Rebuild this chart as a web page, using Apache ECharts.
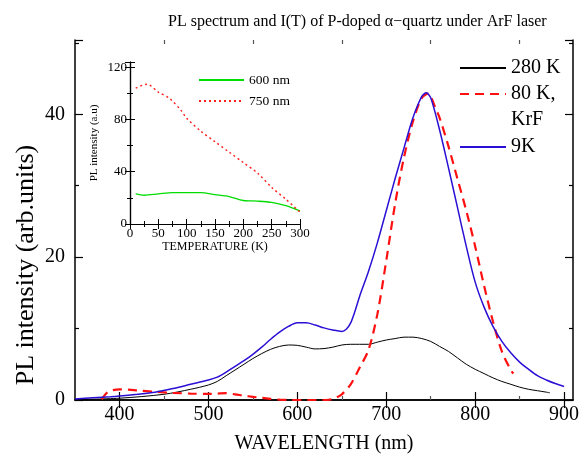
<!DOCTYPE html>
<html>
<head>
<meta charset="utf-8">
<script src="https://cdn.jsdelivr.net/npm/echarts@6/dist/echarts.min.js"></script>
<style>
  html, body { margin: 0; padding: 0; background: #fff; }
  #chart { width: 582px; height: 460px; }
</style>
</head>
<body>
<div id="chart"></div>
<script>
// main spectrum: [wavelength nm, PL intensity]
var spec280K = [[350,0.05],[400,0.25],[450,0.8],[480,1.5],[500,2.1],[510,2.6],[520,3.4],[530,4.2],[540,5.0],[550,5.8],[560,6.5],[570,7.1],[580,7.5],[590,7.7],[600,7.65],[610,7.4],[620,7.15],[630,7.2],[640,7.4],[650,7.7],[660,7.8],[670,7.8],[680,7.8],[690,8.1],[700,8.4],[710,8.6],[720,8.8],[730,8.8],[740,8.6],[750,8.2],[760,7.5],[770,6.8],[780,5.9],[790,5.0],[800,4.3],[810,3.7],[820,3.1],[830,2.6],[840,2.2],[850,1.8],[860,1.5],[870,1.3],[880,1.1],[884,1.0]];
var spec80KKrF = [[380,0.1],[385,0.9],[390,1.3],[400,1.5],[410,1.45],[420,1.35],[440,1.15],[460,1.0],[480,0.9],[500,0.85],[510,0.9],[520,0.95],[530,0.8],[540,0.6],[550,0.45],[560,0.3],[570,0.15],[580,0.05],[590,0],[632,0],[640,0.15],[650,0.8],[660,2.2],[670,4.5],[680,7.0],[690,12],[700,19.5],[710,27.5],[720,34],[730,39],[740,42.3],[747,42.9],[755,41],[760,39.5],[770,35.5],[780,31],[790,26.5],[800,21.5],[810,16],[820,11],[830,6.8],[840,4.2],[843,3.7]];
var spec9K = [[350,0.15],[370,0.3],[390,0.45],[400,0.55],[420,0.8],[440,1.1],[460,1.6],[480,2.2],[500,2.8],[510,3.2],[520,3.9],[530,4.7],[540,5.5],[550,6.4],[560,7.4],[570,8.5],[580,9.5],[590,10.3],[600,10.8],[610,10.8],[620,10.5],[630,10.1],[640,9.8],[650,9.6],[655,9.9],[660,10.8],[665,12.5],[670,14.5],[680,18],[690,22],[700,26.5],[710,31],[720,35.3],[730,39.5],[740,42.5],[745,43],[750,42.3],[760,37.8],[770,32.5],[780,27],[790,21.5],[800,16.5],[810,13],[820,10.3],[830,8.2],[840,6.6],[850,5.3],[860,4.3],[870,3.4],[880,2.8],[890,2.3],[900,1.9]];

// inset: [temperature K, PL intensity]
var temp600 = [[10,23],[25,22],[50,23],[75,24],[100,24],[125,24],[150,22.5],[175,21],[200,18],[225,17.5],[250,16.5],[275,14],[300,10]];
var temp750 = [[10,104],[30,107],[50,101],[70,96],[90,87],[100,81],[125,71],[150,63],[175,55],[200,47],[225,39],[250,28],[275,19],[300,9]];

var xMajor = [400, 500, 600, 700, 800, 900];
var xMinor = [450, 550, 650, 750, 850];

var serif = 'Liberation Serif';
var chart = echarts.init(document.getElementById('chart'));

var frameAxis = { lineStyle: { color: '#000', width: 1.5 } };
var noMarker = { opacity: 0 };

option = {
    animation: false,
    backgroundColor: '#fff',
    textStyle: { fontFamily: serif, color: '#000' },
    title: {
        text: 'PL spectrum and I(T) of P-doped α−quartz under ArF laser',
        left: 163, top: 9,
        textStyle: { fontFamily: serif, fontSize: 16, fontWeight: 'normal', color: '#000' }
    },
    grid: [
        { left: 75, right: 9, top: 40, bottom: 60, outerBoundsMode: 'none' },
        { left: 75, right: 9, top: 40, bottom: 60, outerBoundsMode: 'none' },
        { left: 130, top: 62, width: 170, height: 162, outerBoundsMode: 'none' }
    ],
    legend: [
        { data: ['280 K'], left: 459, top: 56, padding: 0, itemWidth: 46, itemHeight: 14, itemStyle: noMarker,
          textStyle: { fontFamily: serif, fontSize: 20, lineHeight: 24, color: '#000' } },
        { data: ['80 K,\nKrF'], left: 459, top: 55, padding: 0, itemWidth: 46, itemHeight: 14, itemStyle: noMarker,
          formatter: function (n) { return ' \n' + n; },
          textStyle: { fontFamily: serif, fontSize: 20, lineHeight: 26, color: '#000' } },
        { data: ['9K'], left: 459, top: 135, padding: 0, itemWidth: 46, itemHeight: 14, itemStyle: noMarker,
          textStyle: { fontFamily: serif, fontSize: 20, lineHeight: 24, color: '#000' } },
        { data: ['600 nm', '750 nm'], orient: 'vertical', left: 198, top: 73, padding: 0,
          itemWidth: 45, itemHeight: 10, itemGap: 7, itemStyle: noMarker,
          textStyle: { fontFamily: serif, fontSize: 13.5, color: '#000' } }
    ],
    graphic: [{
        type: 'text', x: 26, y: 265, rotation: Math.PI / 2,
        style: { text: 'PL intensity (arb.units)', font: '26px "Liberation Serif"', fill: '#000',
                 align: 'center', verticalAlign: 'middle' }
    }],
    xAxis: [
        { gridIndex: 0, type: 'value', position: 'bottom', min: 350, max: 910,
          name: 'WAVELENGTH (nm)', nameLocation: 'middle', nameGap: 34,
          nameTextStyle: { fontFamily: serif, fontSize: 20, color: '#000' },
          axisLine: frameAxis, splitLine: { show: false },
          axisTick: { inside: true, length: 8, customValues: xMajor, lineStyle: { width: 1.2 } },
          axisLabel: { customValues: xMajor, fontFamily: serif, fontSize: 20, color: '#000', margin: 5 } },
        { gridIndex: 0, type: 'value', position: 'top', min: 350, max: 910,
          axisLine: frameAxis, splitLine: { show: false },
          axisTick: { inside: true, length: 8, customValues: xMajor, lineStyle: { width: 1.2 } },
          axisLabel: { show: false } },
        { gridIndex: 1, type: 'value', position: 'bottom', min: 350, max: 910,
          axisLine: { show: false }, splitLine: { show: false },
          axisTick: { inside: true, length: 4, customValues: xMinor, lineStyle: { width: 1.2 } },
          axisLabel: { show: false } },
        { gridIndex: 1, type: 'value', position: 'top', min: 350, max: 910,
          axisLine: { show: false }, splitLine: { show: false },
          axisTick: { inside: true, length: 4, customValues: xMinor, lineStyle: { width: 1.2 } },
          axisLabel: { show: false } },
        { gridIndex: 2, type: 'value', position: 'bottom', min: 0, max: 300, interval: 50,
          name: 'TEMPERATURE (K)', nameLocation: 'middle', nameGap: 14,
          nameTextStyle: { fontFamily: serif, fontSize: 12, color: '#000' },
          axisLine: { lineStyle: { color: '#000', width: 1.2 } }, splitLine: { show: false },
          axisTick: { inside: true, length: 5 },
          minorTick: { show: true, splitNumber: 2, length: 3 },
          axisLabel: { fontFamily: serif, fontSize: 13, color: '#000', margin: 3 } },
        { gridIndex: 2, type: 'value', position: 'top', min: 0, max: 300, interval: 50,
          axisLine: { lineStyle: { color: '#000', width: 1.2 } }, splitLine: { show: false },
          axisTick: { inside: true, length: 5 },
          minorTick: { show: true, splitNumber: 2, length: 3 },
          axisLabel: { show: false } }
    ],
    yAxis: [
        { gridIndex: 0, type: 'value', position: 'left', min: 0, max: 50.4, interval: 20,
          axisLine: frameAxis, splitLine: { show: false },
          axisTick: { inside: true, length: 8, lineStyle: { width: 1.2 } },
          minorTick: { show: true, splitNumber: 2, length: 4, lineStyle: { width: 1.2 } },
          axisLabel: { fontFamily: serif, fontSize: 20, color: '#000', margin: 10, showMaxLabel: false } },
        { gridIndex: 0, type: 'value', position: 'right', min: 0, max: 50.4, interval: 20,
          axisLine: frameAxis, splitLine: { show: false },
          axisTick: { inside: true, length: 8, lineStyle: { width: 1.2 } },
          minorTick: { show: true, splitNumber: 2, length: 4, lineStyle: { width: 1.2 } },
          axisLabel: { show: false } },
        { gridIndex: 1, type: 'value', min: 0, max: 50.4, show: false },
        { gridIndex: 2, type: 'value', position: 'left', min: 0, max: 124, interval: 40,
          name: 'PL intensity (a.u)', nameLocation: 'middle', nameGap: 30,
          nameTextStyle: { fontFamily: serif, fontSize: 11, color: '#000' },
          axisLine: { lineStyle: { color: '#000', width: 1.2 } }, splitLine: { show: false },
          axisTick: { inside: true, length: 5 },
          minorTick: { show: true, splitNumber: 2, length: 3 },
          axisLabel: { fontFamily: serif, fontSize: 13, color: '#000', margin: 3, showMaxLabel: false } },
        { gridIndex: 2, type: 'value', position: 'right', min: 0, max: 124, interval: 40,
          axisLine: { lineStyle: { color: '#000', width: 1.2 } }, splitLine: { show: false },
          axisTick: { inside: true, length: 5 },
          minorTick: { show: true, splitNumber: 2, length: 3 },
          axisLabel: { show: false } }
    ],
    series: [
        { name: '280 K', type: 'line', xAxisIndex: 0, yAxisIndex: 0, data: spec280K,
          symbol: 'none', smooth: 0.3, lineStyle: { color: '#000', width: 1 }, itemStyle: { color: '#000' } },
        { name: '80 K,\nKrF', type: 'line', xAxisIndex: 0, yAxisIndex: 0, data: spec80KKrF,
          symbol: 'none', smooth: 0.3, lineStyle: { color: '#ff1010', width: 2.2, type: [9, 6] }, itemStyle: { color: '#ff1010' } },
        { name: '9K', type: 'line', xAxisIndex: 0, yAxisIndex: 0, data: spec9K,
          symbol: 'none', smooth: 0.3, lineStyle: { color: '#2a0fd4', width: 1.5 }, itemStyle: { color: '#2a0fd4' } },
        { name: '600 nm', type: 'line', xAxisIndex: 4, yAxisIndex: 3, data: temp600,
          symbol: 'none', smooth: 0.3, lineStyle: { color: '#00dd00', width: 1.3 }, itemStyle: { color: '#00dd00' } },
        { name: '750 nm', type: 'line', xAxisIndex: 4, yAxisIndex: 3, data: temp750,
          symbol: 'none', smooth: 0.3, lineStyle: { color: '#ff2020', width: 1.4, type: [2, 3] }, itemStyle: { color: '#ff2020' } }
    ]
};
chart.setOption(option);
</script>
</body>
</html>
